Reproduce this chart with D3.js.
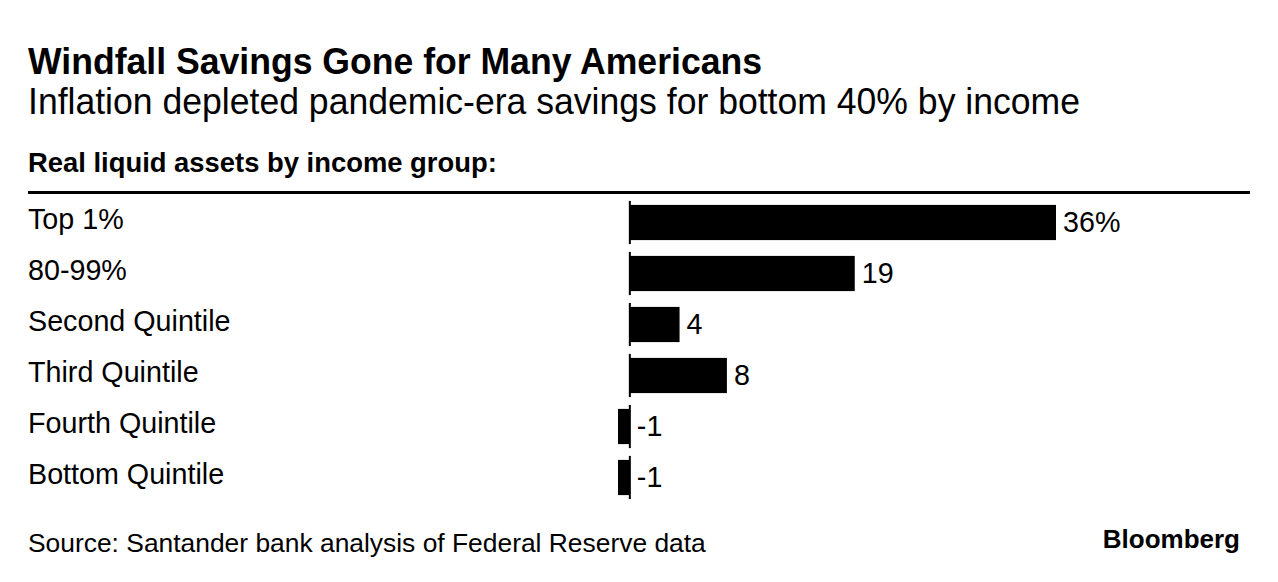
<!DOCTYPE html>
<html>
<head>
<meta charset="utf-8">
<script src="https://cdn.jsdelivr.net/npm/d3@7"></script>
<style>
  body { margin: 0; background: #fff; }
  text { font-family: "Liberation Sans", Arial, Helvetica, sans-serif; fill: #000; }
</style>
</head>
<body>
<div id="chart"></div>
<script>
// data
const groups = ['Top 1%', '80-99%', 'Second Quintile', 'Third Quintile', 'Fourth Quintile', 'Bottom Quintile'];
const values = [36, 19, 4.2, 8.2, -1, -1];
const valueLabels = ['36%', '19', '4', '8', '-1', '-1'];

const width = 1278;
const height = 582;

const svg = d3.select('#chart').append('svg')
  .attr('width', width)
  .attr('height', height);

// headings
svg.append('text')
  .attr('x', 28).attr('y', 74)
  .attr('textLength', 734).attr('lengthAdjust', 'spacingAndGlyphs')
  .style('font-size', '37px').style('font-weight', 'bold')
  .text('Windfall Savings Gone for Many Americans');

svg.append('text')
  .attr('x', 28).attr('y', 114)
  .attr('textLength', 1052).attr('lengthAdjust', 'spacingAndGlyphs')
  .style('font-size', '36px')
  .text('Inflation depleted pandemic-era savings for bottom 40% by income');

svg.append('text')
  .attr('x', 28).attr('y', 172)
  .style('font-size', '27.4px').style('font-weight', 'bold')
  .text('Real liquid assets by income group:');

svg.append('rect')
  .attr('x', 28).attr('y', 191)
  .attr('width', 1250 - 28).attr('height', 3)
  .attr('fill', '#000');

// scales
const x = d3.scaleLinear()
  .domain([-1, 36])
  .range([618, 1056]);

const y = d3.scaleBand()
  .domain(groups)
  .range([197, 503])
  .paddingInner(0.31)
  .paddingOuter(0.155);

const rows = svg.append('g').selectAll('g')
  .data(groups)
  .enter()
  .append('g');

// category labels
rows.append('text')
  .attr('x', 28)
  .attr('y', d => y(d) + y.bandwidth() / 2 + 6)
  .style('font-size', '28.7px')
  .text(d => d);

// bars
rows.append('rect')
  .attr('x', (d, i) => x(Math.min(0, values[i])))
  .attr('y', d => y(d))
  .attr('width', (d, i) => Math.abs(x(values[i]) - x(0)))
  .attr('height', y.bandwidth())
  .attr('fill', '#000');

// zero line pieces
rows.append('rect')
  .attr('x', x(0) - 1)
  .attr('y', d => y(d) - 4)
  .attr('width', 2)
  .attr('height', y.bandwidth() + 8)
  .attr('fill', '#000');

// value labels
rows.append('text')
  .attr('x', (d, i) => x(Math.max(0, values[i])) + 7)
  .attr('y', d => y(d) + y.bandwidth() / 2 + 9)
  .style('font-size', '28.7px')
  .text((d, i) => valueLabels[i]);

// footer
svg.append('text')
  .attr('x', 28).attr('y', 552)
  .style('font-size', '26.4px')
  .text('Source: Santander bank analysis of Federal Reserve data');

svg.append('text')
  .attr('x', 1240).attr('y', 548)
  .attr('text-anchor', 'end')
  .style('font-size', '26px').style('font-weight', 'bold')
  .text('Bloomberg');
</script>
</body>
</html>
